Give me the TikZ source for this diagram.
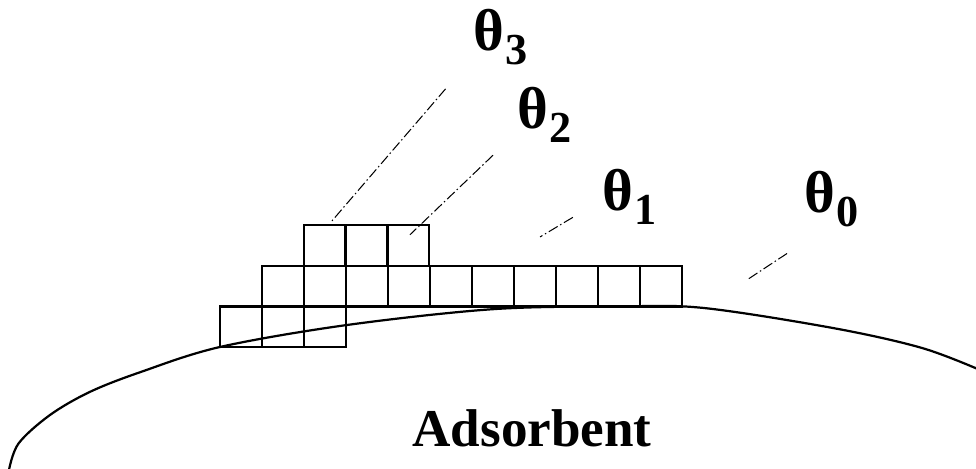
\documentclass[tikz,border=0pt]{standalone}
\usepackage{fontspec}
\setmainfont{Liberation Serif}

\tikzset{
  cell/.style={draw,line width=1.5pt},
  leader/.style={line width=0.7pt,dash pattern=on 7pt off 2pt on 1pt off 2pt},
  layer/.style={anchor=base west,inner sep=0pt,font=\fontsize{40}{44}\selectfont\bfseries}
}
\newcommand{\covlabel}[1]{θ\kern0.02em\raisebox{-0.24em}{\fontsize{30}{30}\selectfont\bfseries #1}}

\begin{document}
\begin{tikzpicture}[line width=1.5pt]
  \useasboundingbox (-5.24,-2.905) rectangle (18.0,8.262);

  % surface of the adsorbent
  \draw plot[smooth,tension=0.55] coordinates {
    (-5.03,-2.95) (-4.8,-2.3) (-4.05,-1.62) (-3.1,-1.07) (-1.9,-0.6)
    (0,0) (3.0,0.52) (6.5,0.9) (9.5,0.965) (11.5,0.93)
    (14.6,0.45) (16.7,-0.02) (18.1,-0.55)};

  % adsorbed layers, cell height 0.965
  \foreach \i in {0,1,2} \draw[cell] (\i,0) rectangle ++(1,0.965);
  \foreach \i in {1,...,10} \draw[cell] (\i,0.965) rectangle ++(1,0.965);
  \foreach \i in {2,3,4} \draw[cell] (\i,1.93) rectangle ++(0.98,0.965);

  % labels
  \node[layer] (t3) at (6.02,7.07) {\covlabel{3}};
  \node[layer] (t2) at (7.05,5.21) {\covlabel{2}};
  \node[layer] (t1) at (9.07,3.26) {\covlabel{1}};
  \node[layer] (t0) at (13.88,3.21) {\covlabel{0}};
  \node[anchor=base,inner sep=0pt,font=\fontsize{36}{40}\selectfont\bfseries] (ads) at (7.43,-2.38) {Adsorbent};

  % leader lines
  \coordinate (e3) at (2.62,2.95);
  \coordinate (e2) at (4.52,2.67);
  \coordinate (e1) at (7.62,2.62);
  \coordinate (e0) at (12.55,1.6);
  \draw[leader] ([shift={(-0.65,-0.55)}]t3.south west) -- (e3);
  \draw[leader] ([shift={(-0.55,-0.28)}]t2.south west) -- (e2);
  \draw[leader] ([shift={(-0.67,0.19)}]t1.south west) -- (e1);
  \draw[leader] ([shift={(-0.38,-0.61)}]t0.south west) -- (e0);
\end{tikzpicture}
\end{document}
